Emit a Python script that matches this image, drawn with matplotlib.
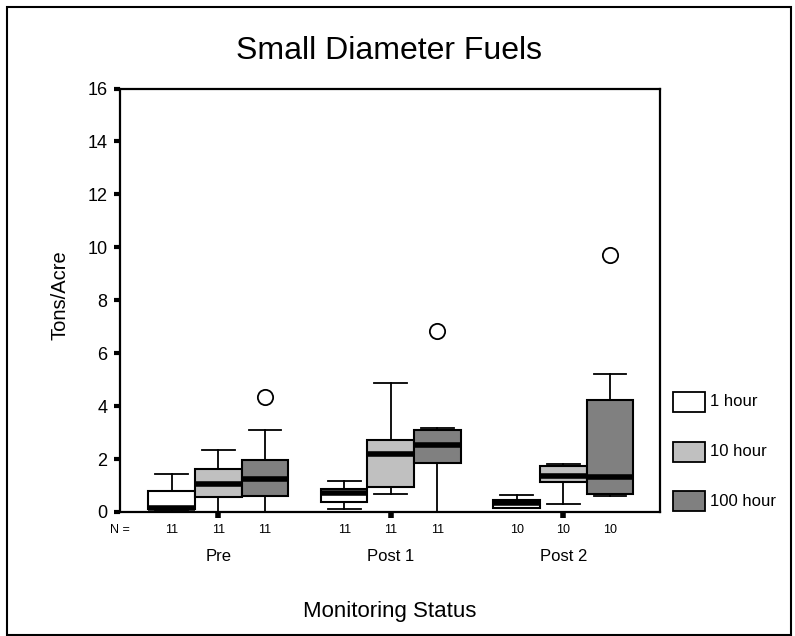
import matplotlib
matplotlib.use("Agg")
import matplotlib.pyplot as plt
from matplotlib.patches import Rectangle

plt.rcParams["font.family"] = ["Liberation Sans", "DejaVu Sans"]

# Monitoring periods and fuel size classes
groups = ["Pre", "Post 1", "Post 2"]
series = ["1 hour", "10 hour", "100 hour"]
colors = ["#ffffff", "#c0c0c0", "#808080"]

# Box-plot summary statistics, one list per fuel class (Pre, Post 1, Post 2)
whislo = {
    "1 hour":   [0.05, 0.12, 0.15],
    "10 hour":  [0.00, 0.69, 0.30],
    "100 hour": [0.00, 0.00, 0.62],
}
q1 = {
    "1 hour":   [0.10, 0.37, 0.17],
    "10 hour":  [0.56, 0.93, 1.12],
    "100 hour": [0.62, 1.85, 0.68],
}
med = {
    "1 hour":   [0.16, 0.73, 0.33],
    "10 hour":  [1.06, 2.19, 1.36],
    "100 hour": [1.25, 2.53, 1.31],
}
q3 = {
    "1 hour":   [0.79, 0.88, 0.47],
    "10 hour":  [1.61, 2.73, 1.75],
    "100 hour": [1.98, 3.11, 4.22],
}
whishi = {
    "1 hour":   [1.45, 1.18, 0.63],
    "10 hour":  [2.36, 4.87, 1.82],
    "100 hour": [3.11, 3.19, 5.22],
}
outliers = {
    "1 hour":   [[], [], []],
    "10 hour":  [[], [], []],
    "100 hour": [[4.35], [6.83], [9.71]],
}
counts = {
    "1 hour":   [11, 11, 10],
    "10 hour":  [11, 11, 10],
    "100 hour": [11, 11, 10],
}

W, H = 795, 636
fig = plt.figure(figsize=(W / 100, H / 100), dpi=100)
ax = fig.add_axes([120 / W, 1 - 512 / H, 540 / W, 423.5 / H])

box_w = 0.27
offsets = [-box_w, 0.0, box_w]
centers = [1, 2, 3]
x_left, x_right = 0.43, 3.561

for s_i, name in enumerate(series):
    stats = []
    for g_i in range(len(groups)):
        stats.append(dict(
            whislo=whislo[name][g_i], q1=q1[name][g_i], med=med[name][g_i],
            q3=q3[name][g_i], whishi=whishi[name][g_i],
            fliers=outliers[name][g_i],
        ))
    pos = [c + offsets[s_i] for c in centers]
    ax.bxp(
        stats, positions=pos, widths=box_w, patch_artist=True,
        showfliers=True, manage_ticks=False,
        capwidths=box_w * 0.7,
        boxprops=dict(facecolor=colors[s_i], edgecolor="black", linewidth=1.5),
        medianprops=dict(color="black", linewidth=4, solid_capstyle="butt"),
        whiskerprops=dict(color="black", linewidth=1.3),
        capprops=dict(color="black", linewidth=1.3),
        flierprops=dict(marker="o", markersize=11, markerfacecolor="white",
                        markeredgecolor="black", markeredgewidth=1.3),
    )
    for g_i, x in enumerate(pos):
        ax.text(x, -0.0425, str(counts[name][g_i]), transform=ax.get_xaxis_transform(),
                ha="center", va="center", fontsize=9)

ax.text(0.0, -0.0425, "N =", transform=ax.transAxes,
        ha="center", va="center", fontsize=9)

for c, g in zip(centers, groups):
    ax.text(c, -0.106, g, transform=ax.get_xaxis_transform(),
            ha="center", va="center", fontsize=12)

ax.set_xlim(x_left, x_right)
ax.set_ylim(0, 16)
ax.set_yticks(range(0, 17, 2))
ax.set_xticks(centers)
ax.set_xticklabels([])
ax.tick_params(axis="y", direction="out", length=4, width=3, pad=5, labelsize=13)
ax.tick_params(axis="x", direction="out", length=4, width=4)
for sp in ax.spines.values():
    sp.set_linewidth(1.6)

# Titles
fig.text(389 / W, 1 - 51 / H, "Small Diameter Fuels", ha="center", va="center", fontsize=23)
fig.text(60 / W, 1 - 295 / H, "Tons/Acre", ha="center", va="center", rotation=90, fontsize=14.5)
fig.text(390 / W, 1 - 612 / H, "Monitoring Status", ha="center", va="center", fontsize=16)

# Legend keys
for i, (name, col) in enumerate(zip(series, colors)):
    top = 392 + i * 49.5
    fig.add_artist(Rectangle((673 / W, 1 - (top + 20) / H), 32 / W, 20 / H,
                             transform=fig.transFigure, facecolor=col,
                             edgecolor="black", linewidth=1.3))
    fig.text(710 / W, 1 - (top + 10) / H, name, ha="left", va="center", fontsize=12)

# Outer frame
fig.add_artist(Rectangle((7 / W, 1 - 635 / H), 784 / W, 628 / H,
                         transform=fig.transFigure, facecolor="none",
                         edgecolor="black", linewidth=1.5))

fig.savefig("out.png", dpi=100)
